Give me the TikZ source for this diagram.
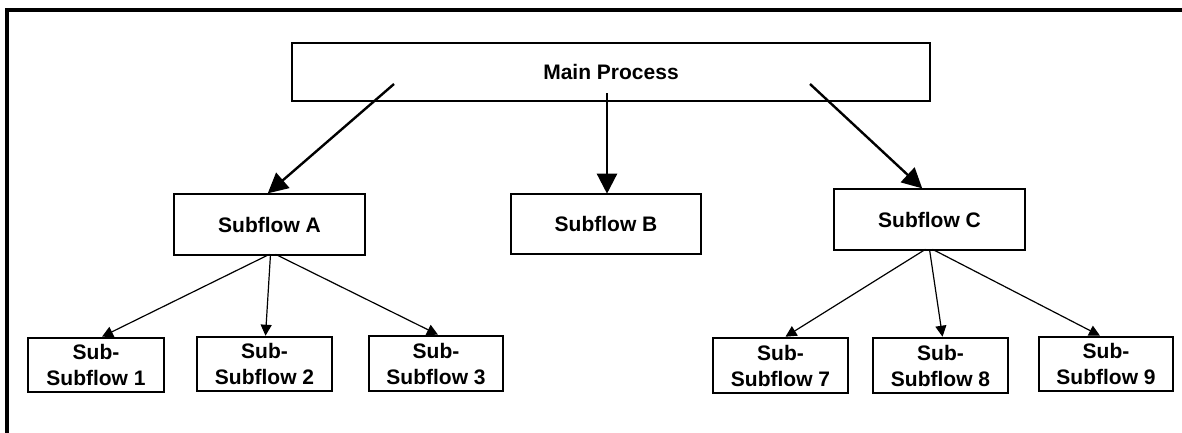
\documentclass[tikz,border=0pt]{standalone}
\usepackage{fontspec}
\setmainfont{Liberation Sans}
\usetikzlibrary{arrows.meta,calc}
\tikzset{
  box/.style={draw=black, line width=2.6pt, fill=white, inner sep=0pt, align=center,
    font=\bfseries\fontsize{21}{26}\selectfont},
  bigarrow/.style={line width=2.4pt, -{Triangle[length=20pt,width=20pt]}, shorten >=-1pt},
  smallarrow/.style={line width=1.2pt, -{Triangle[length=11pt,width=11pt]}},
  frame/.style={line width=4pt}
}
\begin{document}
\begin{tikzpicture}[x=1pt,y=-1pt]
\useasboundingbox (0,0) rectangle (1182,432);
\fill[white] (0,0) rectangle (1182,432);
\coordinate (fb) at (7,434);
\coordinate (fc) at (7,10);
\coordinate (fr) at (1184,10);
\draw[frame] (fb) -- (fc) -- (fr);

\node[box, minimum width=638pt, minimum height=58pt] (main) at (611,72) {Main Process};
\node[box, minimum width=191pt, minimum height=61pt] (A) at (269.5,224.5) {Subflow A};
\node[box, minimum width=190pt, minimum height=60pt] (B) at (606,224) {Subflow B};
\node[box, minimum width=191pt, minimum height=61pt] (C) at (929.5,219.5) {Subflow C};

\node[box, minimum width=136pt, minimum height=54pt] (s1) at (96,365) {Sub-\\Subflow 1};
\node[box, minimum width=135pt, minimum height=54pt] (s2) at (264.5,364) {Sub-\\Subflow 2};
\node[box, minimum width=134pt, minimum height=55pt] (s3) at (436,363.5) {Sub-\\Subflow 3};
\node[box, minimum width=135pt, minimum height=55pt] (s7) at (780.5,365.5) {Sub-\\Subflow 7};
\node[box, minimum width=135pt, minimum height=55pt] (s8) at (940.5,365.5) {Sub-\\Subflow 8};
\node[box, minimum width=134pt, minimum height=54pt] (s9) at (1106,364) {Sub-\\Subflow 9};

\coordinate (mA) at (394,84);
\coordinate (mB) at (607,93);
\coordinate (mC) at (810,84);
\draw[bigarrow] (mA) -- ([xshift=-1pt]A.north);
\draw[bigarrow] (mB) -- ([xshift=1pt]B.north);
\draw[bigarrow] (mC) -- ([xshift=-8pt]C.north);

\draw[smallarrow] ([yshift=2pt]A.south) -- ([xshift=6pt]s1.north);
\draw[smallarrow] ([xshift=1pt,yshift=2pt]A.south) -- ([xshift=1pt]s2.north);
\draw[smallarrow] ([xshift=6pt,yshift=2pt]A.south) -- ([xshift=2pt]s3.north);

\draw[smallarrow] ([xshift=-4pt,yshift=2pt]C.south) -- ([xshift=5pt]s7.north);
\draw[smallarrow] ([yshift=2pt]C.south) -- ([xshift=2pt]s8.north);
\draw[smallarrow] ([xshift=3pt,yshift=2pt]C.south) -- ([xshift=-6pt]s9.north);
\end{tikzpicture}
\end{document}
